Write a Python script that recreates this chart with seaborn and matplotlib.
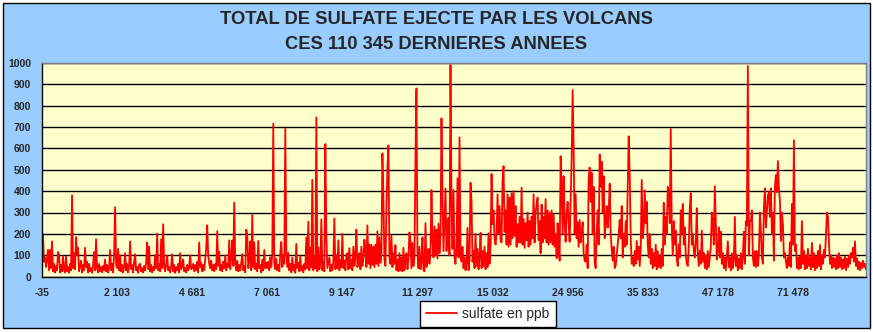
import numpy as np
import pandas as pd
import matplotlib
matplotlib.use("Agg")
import matplotlib.pyplot as plt
from matplotlib.patches import Rectangle
import seaborn as sns

sns.set_theme(style="white")
plt.rcParams["font.family"] = ["Liberation Sans", "DejaVu Sans"]

title_lines = ["TOTAL DE SULFATE EJECTE PAR LES VOLCANS", "CES 110 345 DERNIERES ANNEES"]
series_name = "sulfate en ppb"
tick_labels = ["-35", "2 103", "4 681", "7 061", "9 147", "11 297", "15 032",
               "24 956", "35 833", "47 178", "71 478"]

# sulfate (ppb), one list per labelled interval
seg0 = [145, 200, 70, 90, 45, 80, 125, 30, 125, 40, 165, 25, 60, 20, 50, 30, 115, 105, 20, 55,
        25, 95, 30, 20, 95, 25, 45, 18, 60, 30, 380, 40, 110, 35, 185, 105, 135, 25, 50, 75,
        20, 55, 30, 135, 45, 70, 20, 60, 25, 40, 18, 55, 115, 30, 175, 40, 20, 60, 25, 45,
        20, 50, 30, 80, 25, 55, 20, 40, 125, 30, 60, 20, 100, 325, 60]
seg1 = [40, 130, 30, 100, 25, 55, 20, 45, 110, 30, 60, 20, 50, 165, 35, 55, 20, 70, 105, 30,
        45, 18, 55, 60, 25, 40, 20, 50, 30, 65, 160, 35, 140, 25, 55, 20, 45, 30, 100, 40,
        200, 30, 60, 25, 175, 40, 245, 50, 25, 60, 100, 30, 45, 20, 50, 105, 25, 55, 18, 45,
        30, 60, 20, 110, 35, 50, 80, 25, 40, 20, 55, 30, 45, 100, 35]
seg2 = [40, 60, 25, 55, 30, 70, 20, 160, 45, 65, 25, 55, 30, 80, 135, 240, 100, 60, 40, 75,
        30, 55, 25, 60, 35, 213, 50, 117, 30, 55, 25, 70, 40, 100, 30, 60, 45, 170, 35, 90,
        170, 50, 346, 60, 30, 75, 25, 55, 30, 65, 105, 30, 50, 20, 220, 195, 40, 70, 165, 30,
        290, 45, 160, 35, 60, 25, 167, 40, 55, 20, 80, 30, 125, 40, 65]
seg3 = [40, 70, 30, 90, 45, 110, 715, 60, 35, 85, 30, 55, 25, 110, 162, 45, 100, 60, 693, 110,
        45, 112, 30, 60, 20, 89, 30, 55, 18, 153, 40, 65, 25, 96, 30, 50, 20, 60, 35, 184,
        40, 257, 30, 135, 45, 453, 30, 95, 40, 744, 25, 137, 35, 60, 268, 30, 70, 25, 620, 187,
        40, 65, 90, 25, 55, 30, 75, 272, 35, 100, 40, 170, 30, 80, 45]
seg4 = [200, 40, 75, 30, 100, 110, 35, 133, 40, 80, 30, 140, 50, 90, 220, 45, 70, 110, 35, 140,
        50, 85, 173, 125, 45, 240, 60, 150, 40, 150, 55, 140, 45, 150, 60, 212, 50, 184, 65, 110,
        576, 373, 80, 50, 315, 506, 613, 90, 60, 193, 45, 110, 60, 148, 30, 80, 25, 110, 30, 90,
        25, 135, 30, 80, 110, 35, 85, 207, 163, 40, 158, 50, 95, 548, 880]
seg5 = [110, 40, 140, 35, 75, 184, 30, 25, 250, 45, 80, 130, 60, 110, 405, 170, 90, 235, 100, 220,
        85, 248, 110, 190, 740, 373, 120, 260, 412, 120, 220, 275, 100, 989, 343, 130, 405, 90, 60, 140,
        460, 90, 651, 100, 70, 140, 40, 90, 30, 60, 228, 30, 80, 439, 350, 70, 120, 40, 200, 50,
        130, 35, 90, 205, 40, 120, 50, 140, 35, 110, 45, 203, 60, 140, 480]
seg6 = [245, 310, 180, 150, 200, 385, 200, 330, 170, 160, 450, 517, 210, 310, 150, 385, 140, 370, 150, 390,
        180, 400, 190, 330, 140, 245, 160, 280, 160, 416, 150, 270, 135, 250, 170, 300, 140, 260, 150, 280,
        180, 385, 160, 300, 340, 370, 170, 260, 110, 337, 160, 280, 180, 363, 160, 310, 150, 300, 160, 310,
        150, 290, 140, 200, 87, 250, 140, 75, 563, 420, 200, 470, 257, 163, 300]
seg7 = [350, 250, 163, 363, 550, 872, 602, 200, 385, 180, 255, 140, 265, 160, 200, 255, 110, 75, 70, 150,
        40, 455, 510, 350, 485, 200, 420, 70, 40, 200, 310, 150, 571, 420, 537, 300, 470, 180, 250, 330,
        230, 300, 435, 200, 130, 75, 140, 40, 52, 100, 150, 200, 265, 180, 330, 90, 200, 140, 260, 150,
        420, 656, 475, 180, 60, 90, 50, 120, 60, 167, 80, 140, 50, 130, 452]
seg8 = [180, 235, 403, 250, 350, 150, 90, 200, 60, 130, 40, 110, 50, 150, 35, 120, 45, 100, 40, 130,
        50, 345, 150, 280, 200, 420, 400, 250, 690, 230, 100, 260, 150, 215, 80, 50, 150, 90, 310, 200,
        340, 150, 230, 100, 60, 50, 140, 325, 390, 150, 200, 120, 90, 160, 320, 110, 50, 120, 60, 215,
        70, 110, 40, 100, 35, 120, 45, 90, 140, 300, 255, 150, 423, 255, 80]
seg9 = [120, 230, 90, 210, 60, 110, 40, 90, 30, 100, 165, 45, 90, 30, 110, 40, 80, 280, 50, 100,
        30, 85, 40, 110, 35, 90, 210, 60, 260, 240, 984, 100, 260, 260, 310, 90, 50, 120, 45, 120,
        50, 100, 300, 215, 90, 60, 320, 413, 230, 300, 380, 395, 280, 413, 200, 300, 75, 420, 475, 395,
        540, 413, 355, 167, 300, 245, 90, 110, 70, 40, 90, 50, 160, 45, 340]
seg10 = [150, 638, 120, 150, 40, 90, 35, 95, 40, 260, 60, 120, 35, 100, 40, 130, 50, 90, 35, 158,
         45, 110, 30, 95, 40, 120, 50, 148, 35, 100, 60, 125, 90, 200, 300, 280, 160, 60, 100, 40,
         90, 45, 85, 35, 100, 40, 110, 45, 90, 35, 80, 40, 95, 30, 85, 45, 100, 60, 110, 90,
         135, 70, 165, 50, 85, 35, 70, 30, 65, 40, 75, 45, 60, 35]

segments = [seg0, seg1, seg2, seg3, seg4, seg5, seg6, seg7, seg8, seg9, seg10]
values = [v for s in segments for v in s]
seg_len = len(seg0)
df = pd.DataFrame({"idx": np.arange(len(values)), "sulfate": values})

W, H = 873, 332
fig = plt.figure(figsize=(W / 100, H / 100), dpi=100, facecolor="white")
fig.patches.append(Rectangle((3 / W, 4 / H), 867 / W, 325 / H, transform=fig.transFigure,
                             facecolor="#99CCFF", edgecolor="black", lw=1.0, zorder=-10))

ax = fig.add_axes([42 / W, 1 - 276.7 / H, 824 / W, (276.7 - 62.7) / H])
ax.set_facecolor("#FFFFCC")
sns.lineplot(data=df, x="idx", y="sulfate", color="#FF0000", lw=1.3, estimator=None,
             ax=ax, legend=False)
ax.set_xlim(0, len(values) - 1)
ax.set_ylim(0, 1000)
ax.set_yticks(range(0, 1001, 100))
ax.set_xticks([i * seg_len for i in range(len(tick_labels))])
ax.set_xticklabels(tick_labels)
ax.set_xlabel("")
ax.set_ylabel("")
ax.yaxis.grid(True, color="black", lw=1.0)
ax.xaxis.grid(False)
ax.set_axisbelow(True)
for side in ["left", "bottom"]:
    ax.spines[side].set_color("black")
    ax.spines[side].set_linewidth(1.0)
for side in ["top", "right"]:
    ax.spines[side].set_color("#808080")
    ax.spines[side].set_linewidth(1.0)
ax.tick_params(axis="both", which="major", direction="out", length=3, width=1,
               color="black", labelsize=7.5, pad=5)
for lab in ax.get_xticklabels() + ax.get_yticklabels():
    lab.set_fontweight("bold")

fig.text(0.5, 1 - 19.5 / H, title_lines[0], ha="center", va="center", fontsize=13.2, fontweight="bold")
fig.text(0.5, 1 - 44.5 / H, title_lines[1], ha="center", va="center", fontsize=13.2, fontweight="bold")

handle = ax.get_lines()[0]
leg = fig.legend([handle], [series_name], loc="center", bbox_to_anchor=(488 / W, 1 - 314 / H),
                 frameon=True, fancybox=False, edgecolor="black", framealpha=1, facecolor="white",
                 fontsize=10, handlelength=2.2, borderpad=0.45, handletextpad=0.4)
leg.get_frame().set_linewidth(1.0)

fig.savefig("out.png", dpi=100, facecolor="white")
